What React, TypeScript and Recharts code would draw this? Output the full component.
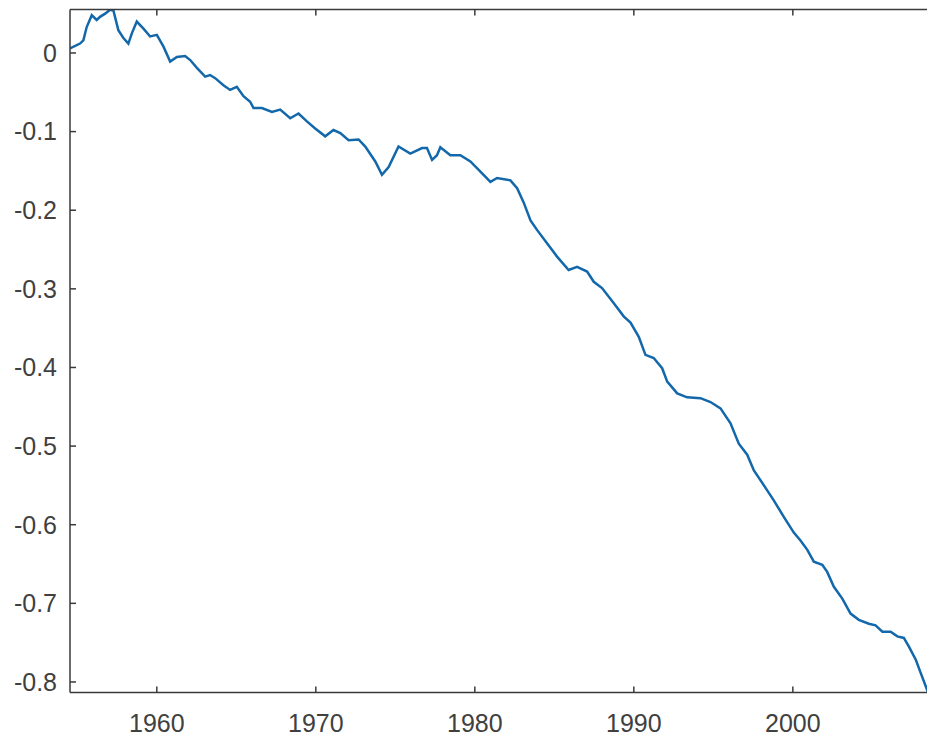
import React from 'react';
import { LineChart, Line, XAxis, YAxis } from 'recharts';

const years: number[] = [
  1954.54, 1955.17, 1955.38, 1955.59, 1955.91, 1956.22, 1956.43, 1956.75, 1957.06, 1957.27,
  1957.58, 1957.9, 1958.21, 1958.43, 1958.74, 1959.16, 1959.58, 1960.0, 1960.42, 1960.84,
  1961.26, 1961.78, 1962.1, 1962.52, 1963.04, 1963.35, 1963.67, 1964.19, 1964.61, 1965.03,
  1965.45, 1965.87, 1966.08, 1966.61, 1967.24, 1967.76, 1968.39, 1968.91, 1969.44, 1969.96,
  1970.59, 1971.11, 1971.54, 1972.06, 1972.69, 1973.11, 1973.74, 1974.16, 1974.58, 1975.2,
  1975.94, 1976.68, 1976.99, 1977.31, 1977.62, 1977.83, 1978.46, 1979.09, 1979.72, 1980.35,
  1980.98, 1981.4, 1982.24, 1982.66, 1983.07, 1983.5, 1983.91, 1984.54, 1985.17, 1985.9,
  1986.43, 1987.06, 1987.48, 1988.0, 1988.73, 1989.36, 1989.79, 1990.31, 1990.73, 1991.25,
  1991.78, 1992.1, 1992.73, 1993.35, 1994.19, 1994.82, 1995.45, 1996.08, 1996.6, 1997.13,
  1997.55, 1998.18, 1998.8, 1999.43, 2000.06, 2000.48, 2000.91, 2001.32, 2001.85, 2002.16,
  2002.58, 2003.11, 2003.63, 2004.15, 2004.78, 2005.2, 2005.63, 2006.15, 2006.57, 2006.98,
  2007.3, 2007.74, 2008.05, 2008.5,
];

const values: number[] = [
  0.006, 0.012, 0.016, 0.033, 0.048, 0.042, 0.046, 0.05, 0.055, 0.054,
  0.029, 0.019, 0.012, 0.025, 0.04, 0.031, 0.021, 0.023, 0.008, -0.011,
  -0.005, -0.004, -0.009, -0.019, -0.03, -0.028, -0.032, -0.041, -0.047, -0.043,
  -0.055, -0.062, -0.07, -0.07, -0.075, -0.072, -0.083, -0.077, -0.087, -0.096,
  -0.106, -0.098, -0.102, -0.111, -0.11, -0.119, -0.138, -0.155, -0.145, -0.119,
  -0.128, -0.121, -0.121, -0.136, -0.13, -0.12, -0.13, -0.13, -0.138, -0.151,
  -0.164, -0.159, -0.162, -0.172, -0.19, -0.213, -0.225, -0.242, -0.259, -0.276,
  -0.272, -0.278, -0.291, -0.299, -0.318, -0.335, -0.343, -0.361, -0.384, -0.388,
  -0.401, -0.418, -0.433, -0.438, -0.439, -0.444, -0.452, -0.471, -0.497, -0.511,
  -0.531, -0.55, -0.569, -0.59, -0.61, -0.62, -0.632, -0.647, -0.651, -0.66,
  -0.679, -0.694, -0.713, -0.721, -0.726, -0.728, -0.736, -0.736, -0.742, -0.744,
  -0.755, -0.772, -0.789, -0.813,
];

const xTicks: number[] = [1960, 1970, 1980, 1990, 2000];
const xTickLabels: string[] = ['1960', '1970', '1980', '1990', '2000'];
const yTicks: number[] = [0, -0.1, -0.2, -0.3, -0.4, -0.5, -0.6, -0.7, -0.8];
const yTickLabels: string[] = ['0', '-0.1', '-0.2', '-0.3', '-0.4', '-0.5', '-0.6', '-0.7', '-0.8'];

const xDomain: [number, number] = [1954.54, 2008.5];
const yDomain: [number, number] = [-0.8134, 0.0553];

const data = years.map((y, i) => ({ year: y, value: values[i] }));

const axisColor = '#3a3a3a';
const textFill = '#404040';
const fontFamily = '"Liberation Sans", Arial, Helvetica, sans-serif';
const fontSize = 25;

const xLabel = (v: number) => {
  const i = xTicks.indexOf(v);
  return i >= 0 ? xTickLabels[i] : '';
};
const yLabel = (v: number) => {
  let best = 0;
  yTicks.forEach((t, i) => {
    if (Math.abs(t - v) < Math.abs(yTicks[best] - v)) best = i;
  });
  return yTickLabels[best];
};

const BottomTick = (props: any) => {
  const { x, y, payload } = props;
  return (
    <g>
      <line x1={x} x2={x} y1={y} y2={y - 6} stroke={axisColor} strokeWidth={1.5} />
      <text
        x={x}
        y={y + 22}
        dy="0.71em"
        textAnchor="middle"
        fill={textFill}
        fontSize={fontSize}
        fontFamily={fontFamily}
      >
        {xLabel(payload.value)}
      </text>
    </g>
  );
};

const TopTick = (props: any) => {
  const { x, y } = props;
  return (
    <g>
      <line x1={x} x2={x} y1={y} y2={y + 6} stroke={axisColor} strokeWidth={1.5} />
    </g>
  );
};

const LeftTick = (props: any) => {
  const { x, y, payload } = props;
  return (
    <g>
      <line x1={x} x2={x + 6} y1={y} y2={y} stroke={axisColor} strokeWidth={1.5} />
      <text
        x={x - 13}
        y={y}
        dy="0.355em"
        textAnchor="end"
        fill={textFill}
        fontSize={fontSize}
        fontFamily={fontFamily}
      >
        {yLabel(payload.value)}
      </text>
    </g>
  );
};

export default function App() {
  return (
    <div
      style={{
        position: 'absolute',
        left: 0,
        top: 0,
        width: 927,
        height: 737,
        overflow: 'hidden',
        background: '#fff',
      }}
    >
      <LineChart
        width={940}
        height={737}
        data={data}
        margin={{ top: 7.5, right: 12, bottom: 14.5, left: 0 }}
      >
        <XAxis
          xAxisId="0"
          dataKey="year"
          type="number"
          domain={xDomain}
          allowDataOverflow
          ticks={xTicks}
          height={30}
          tickSize={0}
          tickMargin={0}
          tickLine={false}
          axisLine={{ stroke: axisColor, strokeWidth: 1.5 }}
          tick={<BottomTick />}
          interval={0}
        />
        <XAxis
          xAxisId="top"
          orientation="top"
          dataKey="year"
          type="number"
          domain={xDomain}
          allowDataOverflow
          ticks={xTicks}
          height={2}
          tickSize={0}
          tickMargin={0}
          tickLine={false}
          axisLine={{ stroke: axisColor, strokeWidth: 1.5 }}
          tick={<TopTick />}
          interval={0}
        />
        <YAxis
          type="number"
          domain={yDomain}
          allowDataOverflow
          ticks={yTicks}
          width={70}
          tickSize={0}
          tickMargin={0}
          tickLine={false}
          axisLine={{ stroke: axisColor, strokeWidth: 1.5 }}
          tick={<LeftTick />}
          interval={0}
        />
        <Line
          xAxisId="0"
          type="linear"
          dataKey="value"
          stroke="#1268aa"
          strokeWidth={2.5}
          dot={false}
          isAnimationActive={false}
        />
      </LineChart>
    </div>
  );
}
